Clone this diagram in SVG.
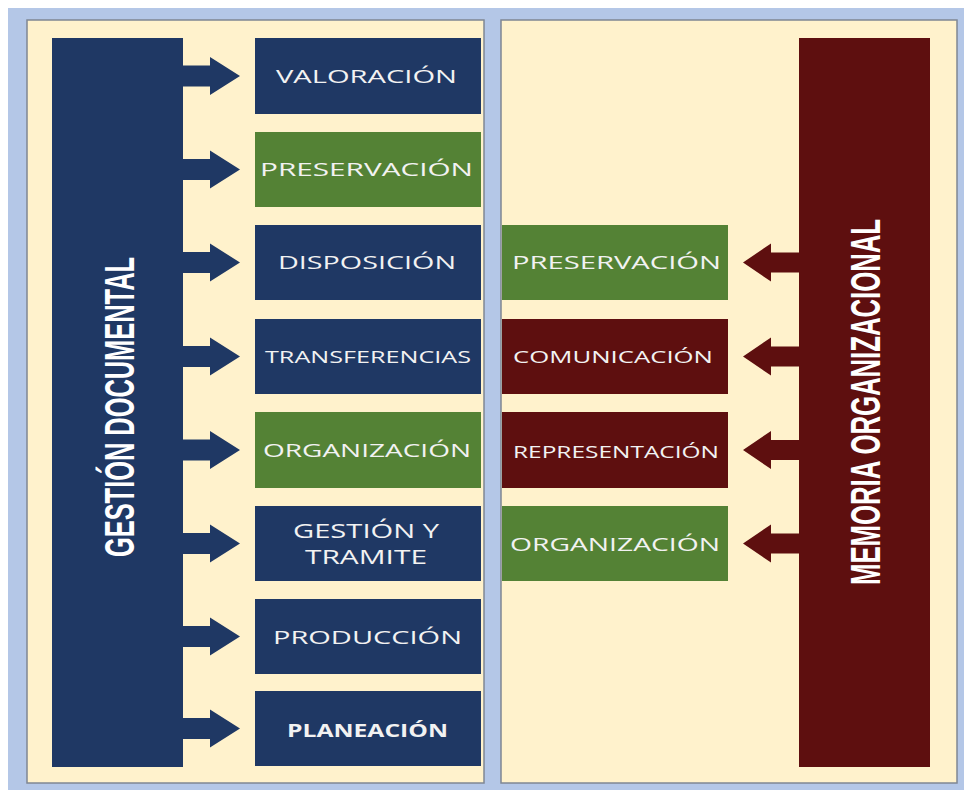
<svg xmlns="http://www.w3.org/2000/svg" width="964" height="790" viewBox="0 0 964 790">
  <style>
    .panel { fill: #fff2cc; stroke: #7f8793; stroke-width: 1.5; }
    .navy { fill: #1f3864; }
    .green { fill: #548235; }
    .wine { fill: #5e0f0f; }
    .lbl { font-family: "Open Sans", "Liberation Sans", sans-serif; font-size: 18px; fill: #f2f2f2; text-anchor: start; }
    .bold { font-weight: bold; }
    .title { font-family: "Liberation Sans", Arial, sans-serif; font-weight: bold; font-size: 43px; fill: #ffffff; text-anchor: middle; }
    .arrL { fill: #1f3864; }
    .arrR { fill: #5e0f0f; }
  </style>

  <!-- backdrop and the two panels -->
  <rect x="0" y="0" width="964" height="790" fill="#ffffff"/>
  <rect x="8" y="8" width="956" height="782" fill="#b4c7e7"/>
  <rect class="panel" x="27" y="20" width="457" height="763"/>
  <rect class="panel" x="501" y="20" width="456" height="763"/>

  <!-- left column: Gestión documental -->
  <g id="gestion-documental">
    <rect class="navy" x="52" y="38" width="131" height="729"/>
    <text class="title" transform="translate(134,407) rotate(-90)" x="0" y="0" textLength="300" lengthAdjust="spacingAndGlyphs">GESTIÓN DOCUMENTAL</text>
  </g>

  <g id="valoracion">
    <rect class="navy" x="255" y="38" width="226" height="76"/>
    <text class="lbl" x="276" y="83" textLength="181" lengthAdjust="spacingAndGlyphs">VALORACIÓN</text>
  </g>
  <g id="preservacion-gd">
    <rect class="green" x="255" y="132" width="226" height="75"/>
    <text class="lbl" x="260" y="176" textLength="213" lengthAdjust="spacingAndGlyphs">PRESERVACIÓN</text>
  </g>
  <g id="disposicion">
    <rect class="navy" x="255" y="225" width="226" height="75"/>
    <text class="lbl" x="278" y="269" textLength="178" lengthAdjust="spacingAndGlyphs">DISPOSICIÓN</text>
  </g>
  <g id="transferencias">
    <rect class="navy" x="255" y="319" width="226" height="75"/>
    <text class="lbl" x="265" y="363" textLength="206" lengthAdjust="spacingAndGlyphs" style="font-size:17px">TRANSFERENCIAS</text>
  </g>
  <g id="organizacion-gd">
    <rect class="green" x="255" y="412" width="226" height="76"/>
    <text class="lbl" x="263" y="457" textLength="208" lengthAdjust="spacingAndGlyphs">ORGANIZACIÓN</text>
  </g>
  <g id="gestion-tramite">
    <rect class="navy" x="255" y="506" width="226" height="75"/>
    <text class="lbl" x="293" y="538" textLength="146" lengthAdjust="spacingAndGlyphs" style="font-size:20px">GESTIÓN Y</text>
    <text class="lbl" x="305" y="564" textLength="122" lengthAdjust="spacingAndGlyphs" style="font-size:20px">TRAMITE</text>
  </g>
  <g id="produccion">
    <rect class="navy" x="255" y="599" width="226" height="75"/>
    <text class="lbl" x="273" y="644" textLength="189" lengthAdjust="spacingAndGlyphs">PRODUCCIÓN</text>
  </g>
  <g id="planeacion">
    <rect class="navy" x="255" y="691" width="226" height="75"/>
    <text class="lbl bold" x="287" y="737" textLength="161" lengthAdjust="spacingAndGlyphs">PLANEACIÓN</text>
  </g>

  <!-- right column: Memoria organizacional -->
  <g id="memoria-organizacional">
    <rect class="wine" x="799" y="38" width="131" height="729"/>
    <text class="title" transform="translate(880,402) rotate(-90)" x="0" y="0" textLength="366" lengthAdjust="spacingAndGlyphs" style="font-size:42px">MEMORIA ORGANIZACIONAL</text>
  </g>

  <g id="preservacion-mo">
    <rect class="green" x="502" y="225" width="226" height="75"/>
    <text class="lbl" x="512" y="269" textLength="209" lengthAdjust="spacingAndGlyphs">PRESERVACIÓN</text>
  </g>
  <g id="comunicacion">
    <rect class="wine" x="502" y="319" width="226" height="75"/>
    <text class="lbl" x="513" y="363" textLength="200" lengthAdjust="spacingAndGlyphs" style="font-size:17px">COMUNICACIÓN</text>
  </g>
  <g id="representacion">
    <rect class="wine" x="502" y="412" width="226" height="76"/>
    <text class="lbl" x="513" y="458" textLength="206" lengthAdjust="spacingAndGlyphs" style="font-size:17px">REPRESENTACIÓN</text>
  </g>
  <g id="organizacion-mo">
    <rect class="green" x="502" y="506" width="226" height="75"/>
    <text class="lbl" x="510" y="551" textLength="210" lengthAdjust="spacingAndGlyphs">ORGANIZACIÓN</text>
  </g>

  <!-- block arrows -->
  <g id="connectors">
    <defs>
      <polygon id="arrow-right" points="0,-10.5 27,-10.5 27,-19 57,0 27,19 27,10.5 0,10.5"/>
      <polygon id="arrow-left" points="0,-10 -28,-10 -28,-19 -56,0 -28,19 -28,10 0,10"/>
    </defs>
    <use href="#arrow-right" class="arrL" x="183" y="76"/>
    <use href="#arrow-right" class="arrL" x="183" y="169.5"/>
    <use href="#arrow-right" class="arrL" x="183" y="262.5"/>
    <use href="#arrow-right" class="arrL" x="183" y="356.5"/>
    <use href="#arrow-right" class="arrL" x="183" y="450"/>
    <use href="#arrow-right" class="arrL" x="183" y="543.5"/>
    <use href="#arrow-right" class="arrL" x="183" y="636.5"/>
    <use href="#arrow-right" class="arrL" x="183" y="728.5"/>

    <use href="#arrow-left" class="arrR" x="799" y="262.5"/>
    <use href="#arrow-left" class="arrR" x="799" y="356.5"/>
    <use href="#arrow-left" class="arrR" x="799" y="450"/>
    <use href="#arrow-left" class="arrR" x="799" y="543.5"/>
  </g>
</svg>
